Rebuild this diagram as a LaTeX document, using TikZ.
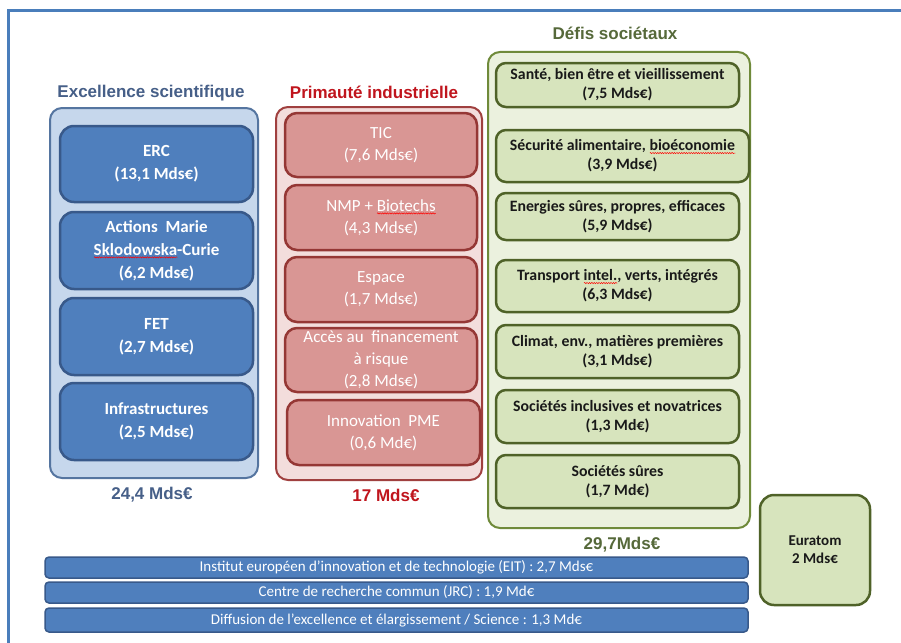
\documentclass[tikz,border=0pt]{standalone}
\usepackage{fontspec}
\setmainfont{Carlito}
\newfontfamily\headfont{Liberation Sans}
\usetikzlibrary{decorations.pathmorphing}

\definecolor{cadre}{HTML}{4A7EBB}
\definecolor{scititle}{HTML}{465F88}
\definecolor{sciedge}{HTML}{5575A0}
\definecolor{sciback}{HTML}{C6D7EC}
\definecolor{scibox}{HTML}{4F7FBD}
\definecolor{sciboxedge}{HTML}{38598A}
\definecolor{primtitle}{HTML}{C0151D}
\definecolor{primedge}{HTML}{A0403F}
\definecolor{primback}{HTML}{F3DDDC}
\definecolor{primbox}{HTML}{D99694}
\definecolor{primboxedge}{HTML}{953735}
\definecolor{defistitle}{HTML}{56693A}
\definecolor{defisedge}{HTML}{6F8A3A}
\definecolor{defisback}{HTML}{EBF1DE}
\definecolor{defisbox}{HTML}{D7E4BD}
\definecolor{defisboxedge}{HTML}{4F6228}

% soulignement rouge du correcteur
\newcommand{\faute}[1]{\setbox0=\hbox{#1}\rlap{\tikz[baseline=0pt,x=1pt,y=1pt]\draw[draw=red,fill=none,sharp corners,line width=0.5pt,
	decorate,decoration={snake,amplitude=0.6pt,segment length=2.4pt}] (0,-2.2) -- (\the\wd0,-2.2);}#1}

\begin{document}
\begin{tikzpicture}[x=1pt,y=-1pt]
	\tikzset{titre/.style={font=\headfont\bfseries\fontsize{17}{20}\selectfont},
		grand/.style={rounded corners=12pt,line width=2pt,inner sep=0pt},
		scibloc/.style={draw=sciboxedge,fill=scibox,text=white,rounded corners=14pt,line width=2.5pt,inner sep=0pt,
			minimum width=193pt,align=center,font=\bfseries\fontsize{17}{23}\selectfont},
		primbloc/.style={draw=primboxedge,fill=primbox,text=white,rounded corners=12pt,line width=2.5pt,inner sep=0pt,
			minimum width=192pt,align=center,font=\fontsize{17}{22}\selectfont},
		defisbloc/.style={draw=defisboxedge,fill=defisbox,text=black!90,rounded corners=10pt,line width=2.5pt,inner sep=0pt,
			minimum width=243pt,align=center,font=\bfseries\fontsize{15.8}{19}\selectfont},
		barre/.style={draw=sciboxedge,fill=scibox,text=white,rounded corners=4pt,line width=1.5pt,inner sep=0pt,
			minimum width=703pt,font=\fontsize{15}{16}\selectfont}}
	\useasboundingbox (0,0) rectangle (901,642);
	\fill[white] (0,0) rectangle (901,642);
	\draw[cadre,line width=3pt] (8.5,645) -- (8.5,11) -- (905,11);

	% Excellence scientifique
	\node[titre,text=scititle] (t-sci) at (151,93) {Excellence scientifique};
	\node[grand,draw=sciedge,fill=sciback,minimum width=208pt,minimum height=370pt] (sci) at (154,293) {};
	\node[scibloc,minimum height=76pt] (erc) at (156.5,164) {ERC\\(13,1 Mds€)};
	\node[scibloc,minimum height=77pt] (marie) at (156.5,250.5) {Actions\ \ Marie\\\faute{Sklodowska}-Curie\\(6,2 Mds€)};
	\node[scibloc,minimum height=77pt] (fet) at (156.5,336.5) {FET\\(2,7 Mds€)};
	\node[scibloc,minimum height=77pt] (infra) at (156.5,421.5) {Infrastructures\\(2,5 Mds€)};
	\node[titre,text=scititle] (tot-sci) at (152,495) {24,4 Mds€};

	% Primauté industrielle
	\node[titre,text=primtitle] (t-prim) at (374,92) {Primauté industrielle};
	\node[grand,draw=primedge,fill=primback,minimum width=206pt,minimum height=373pt] (prim) at (379,293.5) {};
	\node[primbloc,minimum height=64pt] (tic) at (381,145) {TIC\\(7,6 Mds€)};
	\node[primbloc,minimum height=65pt] (nmp) at (381,217.5) {NMP + \faute{Biotechs}\\(4,3 Mds€)};
	\node[primbloc,minimum height=65pt] (espace) at (381,289.5) {Espace\\(1,7 Mds€)};
	\node[primbloc,minimum height=64pt] (risque) at (381,360) {Accès au\ \ financement\\à risque\\(2,8 Mds€)};
	\node[primbloc,minimum height=65pt,minimum width=193pt] (pme) at (383.5,432.5) {Innovation\ \ PME\\(0,6 Md€)};
	\node[titre,text=primtitle] (tot-prim) at (386,495) {17 Mds€};

	% Defis societaux
	\node[titre,text=defistitle] (t-defis) at (615,33) {Défis sociétaux};
	\node[grand,draw=defisedge,fill=defisback,minimum width=262pt,minimum height=476pt] (defis) at (619,290) {};
	\node[defisbloc,minimum height=44pt] (sante) at (617.5,85) {Santé, bien être et vieillissement\\(7,5 Mds€)};
	\node[defisbloc,minimum height=52pt,minimum width=253pt] (alim) at (622.5,156) {Sécurité alimentaire, \faute{bioéconomie}\\(3,9 Mds€)};
	\node[defisbloc,minimum height=47pt] (energie) at (617.5,216.5) {Energies sûres, propres, efficaces\\(5,9 Mds€)};
	\node[defisbloc,minimum height=52pt] (transport) at (617.5,286) {Transport \faute{intel.}, verts, intégrés\\(6,3 Mds€)};
	\node[defisbloc,minimum height=53pt] (climat) at (617.5,351.5) {Climat, env., matières premières\\(3,1 Mds€)};
	\node[defisbloc,minimum height=53pt] (inclusives) at (617.5,416.5) {Sociétés inclusives et novatrices\\(1,3 Md€)};
	\node[defisbloc,minimum height=53pt] (sures) at (617.5,481.5) {Sociétés sûres\\(1,7 Md€)};
	\node[titre,text=defistitle] (tot-defis) at (622,545) {29,7Mds€};

	% Euratom et lignes du bas
	\node[defisbloc,minimum width=110pt,minimum height=110pt,rounded corners=14pt,font=\bfseries\fontsize{15}{18}\selectfont] (euratom) at (815,550) {Euratom\\2 Mds€};
	\node[barre,minimum height=21pt] (eit) at (396.5,567.5) {Institut européen d’innovation et de technologie (EIT) : 2,7 Mds€};
	\node[barre,minimum height=21pt] (jrc) at (396.5,592.5) {Centre de recherche commun (JRC) : 1,9 Md€};
	\node[barre,minimum height=24pt] (diffusion) at (396.5,620) {Diffusion de l’excellence et élargissement / Science : 1,3 Md€};
\end{tikzpicture}
\end{document}
